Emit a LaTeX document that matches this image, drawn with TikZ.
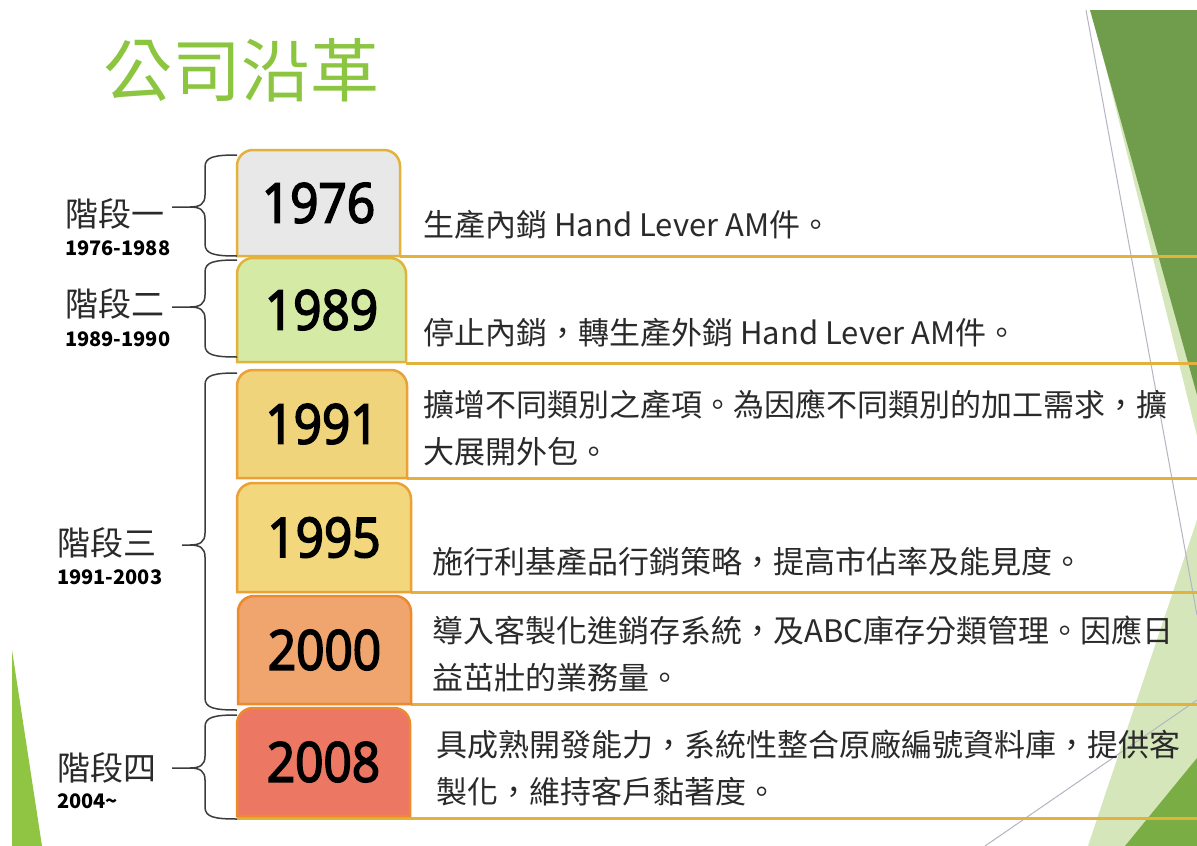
\documentclass[tikz,border=0pt]{standalone}
\usepackage{fontspec}
\setmainfont{Noto Sans CJK TC}
\newfontfamily\yearfont{Open Sans}[FakeStretch=0.9, FakeBold=3]
\definecolor{darkgreen}{HTML}{6F9D4C}
\definecolor{palegreen}{HTML}{D5E6BA}
\definecolor{midgreen}{HTML}{7AAE45}
\definecolor{limegreen}{HTML}{90C543}
\definecolor{titlegreen}{HTML}{8CC53F}
\definecolor{thingrey}{HTML}{B5B5C2}
\definecolor{gold}{HTML}{E3B23C}
\definecolor{orangegold}{HTML}{EBA135}
\definecolor{orangeline}{HTML}{EE8A2E}
\definecolor{fillA}{HTML}{E8E8E8}
\definecolor{fillB}{HTML}{D5EBA5}
\definecolor{fillC}{HTML}{F0D47C}
\definecolor{fillD}{HTML}{F2D77D}
\definecolor{fillE}{HTML}{F0A46E}
\definecolor{fillF}{HTML}{EC7864}
\definecolor{textgrey}{HTML}{2A2A2A}
\definecolor{bracegrey}{HTML}{3C3C3C}

\newcommand\yearbox[8]{%
  \draw[fill=#6, draw=#7, line width=2.5pt] (#2,#5) [rounded corners=16pt] -- (#2,#3) -- (#4,#3) [sharp corners] -- (#4,#5) -- cycle;
  \node[yeartext] (#1) at ({(#2+#4)/2},{(#3+#5)/2}) {#8};
}
\newcommand\stagebrace[5]{% name, top, bottom, tipx, midy
  \coordinate (#1) at (#4,#5);
  \draw[bracestyle] (237,#2) .. controls (214,#2) and (205,#2+2) .. (205,#2+12) -- (205,#5-12)
     .. controls (205,#5-3) and (200,#5) .. (190,#5) -- (#1)
     (190,#5) .. controls (200,#5) and (205,#5+3) .. (205,#5+12) -- (205,#3-12)
     .. controls (205,#3-2) and (214,#3) .. (237,#3);
}

\begin{document}
\begin{tikzpicture}[x=1pt,y=-1pt,
  yeartext/.style={inner sep=0pt, font=\yearfont\fontsize{55}{55}\selectfont, text=black},
  desc/.style={inner sep=0pt, anchor=west, align=left, font=\fontsize{31}{47}\selectfont, text=textgrey},
  stagelabel/.style={inner sep=0pt, anchor=west, font=\fontsize{33}{33}\selectfont, text=textgrey},
  yearrange/.style={inner sep=0pt, anchor=west, font=\bfseries\fontsize{20}{20}\selectfont, text=black},
  bracestyle/.style={draw=bracegrey, line width=1.5pt},
  goldline/.style={draw=gold, line width=3pt},
  thinline/.style={draw=thingrey, line width=1pt}]
\useasboundingbox (0,0) rectangle (1197,846);
\fill[white] (0,0) rectangle (1197,846);

% background decoration
\fill[palegreen] (1092,12) -- (1197,436) -- (1197,395) -- cycle;
\fill[darkgreen] (1090,10) -- (1197,10) -- (1197,395) -- cycle;
\fill[palegreen] (1197,520) -- (1197,846) -- (1088,846) -- cycle;
\fill[midgreen] (1197,758) -- (1197,846) -- (1125,846) -- cycle;
\fill[limegreen] (12,650) -- (42,846) -- (12,846) -- cycle;
\coordinate (gA) at (1086,10);
\coordinate (gB) at (1197,615);
\coordinate (gC) at (985,846);
\coordinate (gD) at (1197,700);
\draw[thinline] (gA) -- (gB);
\draw[thinline] (gC) -- (gD);

% title
\node[inner sep=0pt, anchor=west, font=\fontsize{69}{69}\selectfont, text=titlegreen] (title) at (103,70) {公司沿革};

% row lines
\coordinate (r1) at (400,256);  \coordinate (e1) at (1197,256);
\coordinate (r2) at (406,363);  \coordinate (e2) at (1197,363);
\coordinate (r3) at (407,478);  \coordinate (e3) at (1197,478);
\coordinate (r4) at (411,592);  \coordinate (e4) at (1197,592);
\coordinate (r5) at (411,704);  \coordinate (e5) at (1197,704);
\coordinate (r6) at (237,818);  \coordinate (e6) at (1197,818);
\draw[goldline] (r1) -- (e1);
\draw[goldline] (r2) -- (e2);
\draw[goldline] (r3) -- (e3);
\draw[goldline] (r4) -- (e4);
\draw[goldline] (r5) -- (e5);
\draw[goldline] (r6) -- (e6);

% year boxes
\yearbox{y1976}{237}{150}{400}{256}{fillA}{gold}{1976}
\yearbox{y1989}{237}{258}{406}{362}{fillB}{gold}{1989}
\yearbox{y1991}{237}{370}{407}{478}{fillC}{orangegold}{1991}
\yearbox{y1995}{237}{483}{411}{592}{fillD}{orangegold}{1995}
\yearbox{y2000}{238}{596}{411}{704}{fillE}{orangeline}{2000}
\yearbox{y2008}{237}{708}{410}{816}{fillF}{orangeline}{2008}

% descriptions
\node[desc] (d1) at (423,225) {生產內銷 Hand Lever AM件。};
\node[desc] (d2) at (423,333) {停止內銷，轉生產外銷 Hand Lever AM件。};
\node[desc] (d3) at (423,428) {擴增不同類別之產項。為因應不同類別的加工需求，擴\\大展開外包。};
\node[desc] (d4) at (432,562) {施行利基產品行銷策略，提高市佔率及能見度。};
\node[desc] (d5) at (432,654) {導入客製化進銷存系統，及ABC庫存分類管理。因應日\\益茁壯的業務量。};
\node[desc] (d6) at (436,768) {具成熟開發能力，系統性整合原廠編號資料庫，提供客\\製化，維持客戶黏著度。};

% stage labels
\node[stagelabel] (s1) at (65,214) {階段一};
\node[yearrange] (p1) at (65,248) {1976-1988};
\node[stagelabel] (s2) at (65,304) {階段二};
\node[yearrange] (p2) at (65,339) {1989-1990};
\node[stagelabel] (s3) at (57,543) {階段三};
\node[yearrange] (p3) at (57,577) {1991-2003};
\node[stagelabel] (s4) at (57,768) {階段四};
\node[yearrange] (p4) at (57,801) {2004\textasciitilde};

% braces
\stagebrace{t1}{155}{256}{172}{207}
\stagebrace{t2}{260}{357}{172}{307}
\stagebrace{t3}{373}{710}{182}{545}
\stagebrace{t4}{715}{819}{172}{768}
\end{tikzpicture}
\end{document}
